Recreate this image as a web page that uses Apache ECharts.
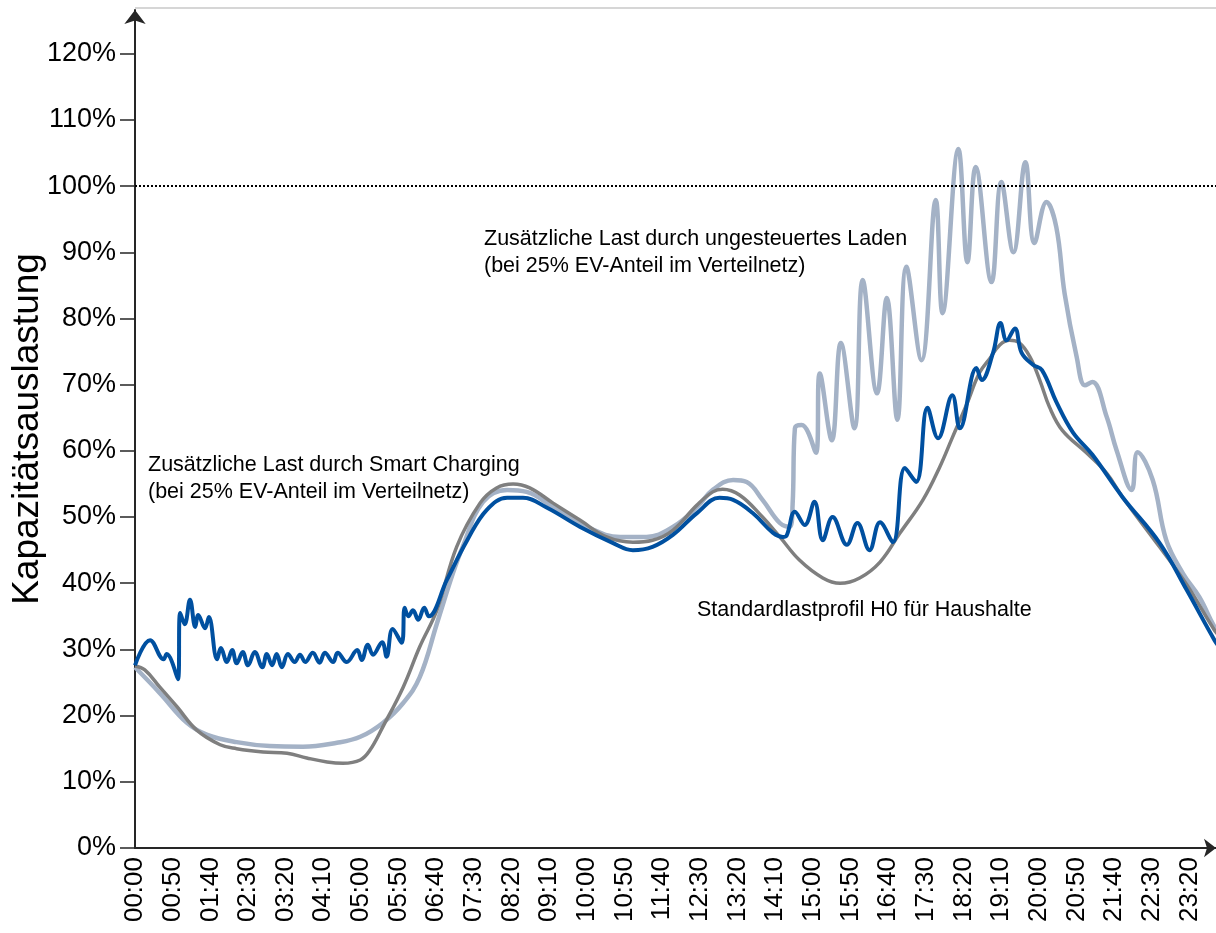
<!DOCTYPE html>
<html>
<head>
<meta charset="utf-8">
<script src="https://cdn.jsdelivr.net/npm/echarts@6/dist/echarts.min.js"></script>
<style>
  html, body { margin: 0; padding: 0; background: #fff; }
  #chart { width: 1216px; height: 933px; }
</style>
</head>
<body>
<div id="chart"></div>
<script>
// time of day in minutes, values in % of capacity
const h0Times = [0, 13, 33, 56, 82, 113, 135, 170, 202, 228, 255, 276, 299, 312, 329, 356, 378, 401, 427, 458,
  480, 502, 524, 555, 591, 626, 661, 687, 714, 746, 767, 780, 803, 833, 856, 882, 913, 936, 962, 989,
  1015, 1046, 1068, 1085, 1104, 1121, 1135, 1148, 1161, 1174, 1188, 1201, 1214, 1231, 1263, 1290, 1311, 1360, 1396, 1433, 1440]
const h0Values = [27.5, 26.9, 24.3, 21.3, 17.8, 15.6, 15.0, 14.5, 14.3, 13.6, 13.0, 12.8, 13.3, 14.8, 18.3, 24.3, 30.4, 36.0, 45.5, 52.1,
  54.4, 55.0, 54.4, 52.1, 49.5, 47.0, 46.2, 46.5, 48.0, 51.8, 53.8, 54.2, 53.3, 50.0, 47.0, 43.5, 40.8, 40.0, 40.8, 43.2,
  47.5, 52.6, 57.5, 62.0, 67.0, 71.8, 74.0, 76.0, 76.7, 76.3, 74.2, 70.7, 66.6, 63.1, 59.7, 56.6, 53.0, 45.5, 39.8, 32.9, 32.0]

const uncontrolledTimes = [0, 33, 69, 96, 135, 179, 223, 268, 299, 329, 356, 378, 401, 422, 435, 462, 494, 520, 555, 600,
  644, 679, 714, 746, 767, 794, 812, 833, 856, 869, 873, 876, 885, 904, 909, 925, 937, 955, 966, 985,
  998, 1012, 1024, 1044, 1063, 1072, 1093, 1105, 1116, 1137, 1150, 1166, 1182, 1194, 1210, 1223, 1234, 1250, 1261, 1271,
  1290, 1303, 1323, 1331, 1351, 1369, 1391, 1413, 1433, 1440]
const uncontrolledValues = [27.3, 23.4, 18.9, 17.1, 16.0, 15.4, 15.3, 15.9, 16.8, 18.9, 21.9, 25.8, 34.0, 41.5, 45.5, 52.3, 54.1, 53.8, 51.5, 48.5,
  47.0, 47.0, 48.5, 51.5, 54.1, 55.6, 55.3, 52.6, 49.1, 48.5, 52.0, 63.4, 63.9, 59.7, 71.7, 61.6, 76.3, 63.4, 85.8, 68.7,
  83.1, 64.7, 87.8, 73.7, 97.9, 80.8, 105.6, 88.5, 102.9, 85.5, 100.6, 90.0, 103.6, 91.4, 97.6, 93.8, 83.8, 74.2, 69.9, 70.4,
  65.1, 60.1, 54.1, 59.8, 55.6, 46.5, 41.5, 37.9, 33.4, 32.5]

const smartTimes = [0, 20, 38, 42, 57, 60, 66, 73, 80, 84, 93, 98, 109, 114, 122, 129, 135, 143, 150, 159,
  169, 175, 182, 188, 195, 203, 212, 219, 226, 236, 245, 252, 263, 269, 281, 295, 301, 309, 316, 328,
  334, 342, 354, 358, 363, 369, 376, 384, 390, 414, 441, 467, 494, 515, 547, 591, 634, 661, 687, 714,
  746, 776, 794, 820, 847, 860, 865, 876, 889, 902, 913, 926, 945, 959, 975, 989, 1006, 1022, 1037, 1052,
  1066, 1085, 1095, 1117, 1124, 1139, 1149, 1157, 1168, 1177, 1192, 1204, 1223, 1245, 1271, 1311, 1360, 1396, 1433, 1440]
const smartValues = [27.6, 31.4, 28.5, 29.3, 25.5, 35.5, 33.8, 37.5, 33.4, 35.2, 33.2, 34.9, 28.5, 30.2, 28.1, 29.9, 27.9, 29.6, 27.6, 29.6,
  27.3, 29.3, 27.6, 29.3, 27.3, 29.3, 28.1, 29.2, 28.1, 29.5, 28.0, 29.5, 28.1, 29.5, 28.1, 29.9, 28.4, 30.7, 29.2, 31.1,
  28.9, 33.1, 31.0, 36.3, 35.0, 35.9, 34.5, 36.3, 35.0, 40.5, 46.5, 51.1, 52.9, 52.9, 51.4, 48.5, 46.1, 45.0, 45.5, 47.3,
  50.6, 52.9, 52.6, 50.6, 47.6, 47.0, 47.2, 50.8, 48.8, 52.3, 46.5, 50.0, 45.8, 49.1, 45.0, 49.2, 46.2, 57.4, 55.3, 66.5,
  61.9, 68.4, 63.4, 72.5, 70.7, 74.8, 79.3, 76.7, 78.5, 74.8, 73.0, 72.2, 67.4, 62.8, 59.4, 53.0, 46.1, 39.0, 31.4, 30.3]

// axis ticks
const timeTicks = []
for (let m = 0; m <= 1400; m += 50) timeTicks.push(m)
const percentTicks = [0, 10, 20, 30, 40, 50, 60, 70, 80, 90, 100, 110, 120]
const capacityLimit = 100

const FONT = '"Liberation Sans", Arial, sans-serif'

function pairs(times, values) {
  return times.map((t, i) => [t, values[i]])
}

function fmtTime(m) {
  const h = Math.floor(m / 60)
  const mm = m % 60
  return String(h).padStart(2, '0') + ':' + String(mm).padStart(2, '0')
}

const chart = echarts.init(document.getElementById('chart'), null, { renderer: 'canvas' })

chart.setOption({
  animation: false,
  backgroundColor: '#fff',
  grid: { left: 135, right: 0, top: 10, bottom: 85, containLabel: false, outerBoundsMode: 'none' },
  xAxis: {
    type: 'value',
    min: 0,
    max: 1435,
    axisLine: {
      show: true,
      lineStyle: { color: '#262626', width: 2 },
      symbol: ['none', 'arrow'],
      symbolSize: [14, 12],
    },
    axisTick: { show: false },
    splitLine: { show: false },
    axisLabel: {
      customValues: timeTicks,
      rotate: 90,
      margin: 9,
      color: '#000',
      fontFamily: FONT,
      fontSize: 26,
      formatter: (v) => fmtTime(v),
    },
  },
  yAxis: {
    type: 'value',
    min: 0,
    max: 126.6,
    name: 'Kapazitätsauslastung',
    nameLocation: 'middle',
    nameRotate: 90,
    nameGap: 89,
    nameMoveOverlap: false,
    nameTextStyle: { color: '#000', fontFamily: FONT, fontSize: 37 },
    axisLine: {
      show: true,
      lineStyle: { color: '#262626', width: 2 },
      symbol: ['none', 'arrow'],
      symbolSize: [16, 14],
    },
    axisTick: {
      show: true,
      customValues: percentTicks,
      length: 15,
      lineStyle: { color: '#262626', width: 1.5 },
    },
    splitLine: { show: false },
    axisLabel: {
      customValues: percentTicks,
      margin: 19,
      color: '#000',
      fontFamily: FONT,
      fontSize: 27,
      formatter: '{value}%',
    },
  },
  graphic: [
    {
      type: 'line',
      shape: { x1: 135, y1: 8, x2: 1216, y2: 8 },
      style: { stroke: '#c8c8c8', lineWidth: 1.5 },
      silent: true,
    },
    {
      type: 'text',
      left: 484, top: 226,
      style: {
        text: 'Zusätzliche Last durch ungesteuertes Laden\n(bei 25% EV-Anteil im Verteilnetz)',
        font: '21.5px ' + FONT, fill: '#000', lineHeight: 27,
      },
    },
    {
      type: 'text',
      left: 148, top: 452,
      style: {
        text: 'Zusätzliche Last durch Smart Charging\n(bei 25% EV-Anteil im Verteilnetz)',
        font: '21.5px ' + FONT, fill: '#000', lineHeight: 27,
      },
    },
    {
      type: 'text',
      left: 697, top: 599,
      style: { text: 'Standardlastprofil H0 für Haushalte', font: '21.5px ' + FONT, fill: '#000' },
    },
  ],
  series: [
    {
      name: 'ungesteuertes Laden',
      type: 'line',
      data: pairs(uncontrolledTimes, uncontrolledValues),
      showSymbol: false,
      smooth: 0.4,
      lineStyle: { color: '#a4b2c6', width: 4.5 },
      z: 2,
    },
    {
      name: 'H0',
      type: 'line',
      data: pairs(h0Times, h0Values),
      showSymbol: false,
      smooth: 0.4,
      lineStyle: { color: '#7f7f7f', width: 3.5 },
      z: 3,
      markLine: {
        silent: true,
        symbol: ['none', 'none'],
        label: { show: false },
        lineStyle: { color: '#000', type: 'dotted', width: 2 },
        data: [{ yAxis: capacityLimit }],
      },
    },
    {
      name: 'Smart Charging',
      type: 'line',
      data: pairs(smartTimes, smartValues),
      showSymbol: false,
      smooth: 0.4,
      lineStyle: { color: '#0050a0', width: 4 },
      z: 4,
    },
  ],
})
</script>
</body>
</html>
